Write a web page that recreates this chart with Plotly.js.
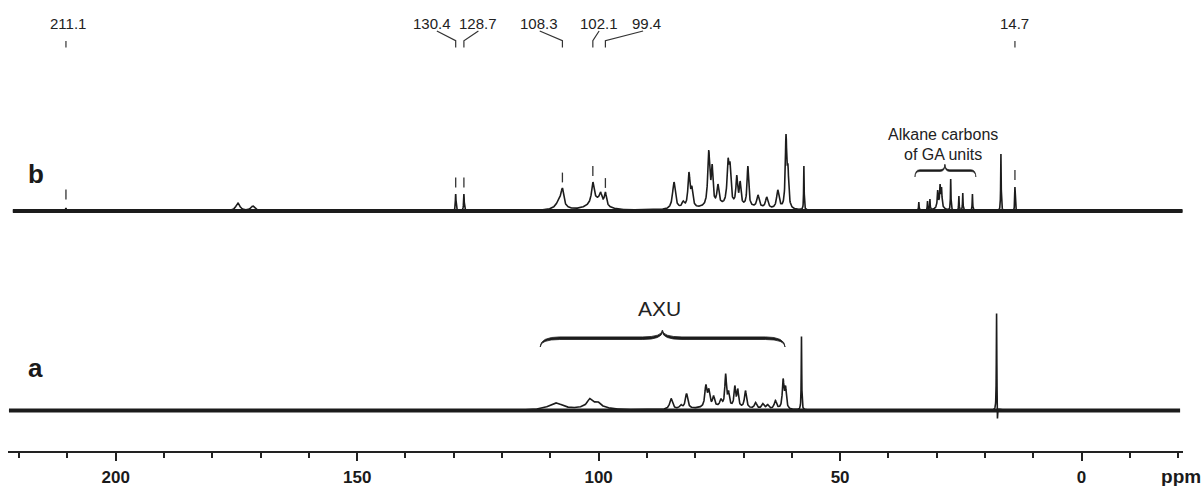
<!DOCTYPE html>
<html><head><meta charset="utf-8">
<script src="https://cdn.plot.ly/plotly-3.0.1.min.js"></script>
<style>html,body{margin:0;padding:0;background:#fff}#chart{width:1204px;height:486px}</style>
</head><body><div id="chart"></div>
<script>
// ===== DATA =====
// Spectrum b (top): sharp/medium peaks: position (ppm), apex height above baseline (a.u.), half-width (ppm)
const peaksB_ppm    = [210.3, 174.7, 171.6, 129.6, 127.9, 107.5, 101.2, 99.6, 98.6, 84.4, 82.5, 81.3, 80.7, 77.2, 76.5, 75.3, 73.2, 72.8, 71.4, 70.7, 69.1, 67.0, 65.2, 62.9, 61.2, 60.8, 57.5, 33.7, 31.9, 31.4, 29.8, 29.3, 29.0, 27.1, 25.4, 24.6, 22.6, 16.7, 13.8];
const peaksB_height = [3, 8, 5, 17, 17, 23, 29, 19, 19, 29, 10, 39, 25, 61, 47, 27, 53, 49, 36, 30, 45, 16, 14, 21, 77, 47, 45, 9, 10, 12, 21, 27, 24, 32, 15, 18, 17, 57, 24];
const peaksB_width  = [0.1, 0.5, 0.5, 0.08, 0.08, 0.3, 0.3, 0.3, 0.25, 0.35, 0.3, 0.25, 0.25, 0.25, 0.2, 0.25, 0.25, 0.2, 0.2, 0.2, 0.2, 0.3, 0.3, 0.3, 0.18, 0.18, 0.06, 0.06, 0.06, 0.06, 0.1, 0.1, 0.1, 0.06, 0.06, 0.06, 0.06, 0.06, 0.06];
// Spectrum b broad humps
const humpsB_ppm    = [108.0, 100.5, 73.0, 29.4];
const humpsB_height = [10, 10, 5, 6];
const humpsB_width  = [0.9, 1.8, 6, 0.7];

// Spectrum a (bottom)
const peaksA_ppm    = [101.9, 100.2, 85.0, 83.0, 81.8, 77.8, 77.2, 76.2, 74.7, 73.7, 73.1, 71.8, 71.2, 69.6, 67.5, 66.0, 65.0, 63.4, 61.8, 61.3, 58.0, 17.6, 17.42];
const peaksA_height = [12, 9, 12, 6, 17, 26, 22, 15, 12, 37, 20, 25, 22, 20, 8, 7, 6, 10, 32, 25, 74, 97, -8];
const peaksA_width  = [0.5, 0.5, 0.35, 0.3, 0.3, 0.25, 0.25, 0.25, 0.25, 0.2, 0.2, 0.2, 0.2, 0.25, 0.3, 0.3, 0.3, 0.3, 0.2, 0.2, 0.06, 0.06, 0.05];
const humpsA_ppm    = [108.9, 101.0, 75.0];
const humpsA_height = [7, 6, 3];
const humpsA_width  = [1.8, 2.2, 6];

// spectrum extents (ppm)
const extentB = [221.3, -20.9];
const extentA = [222.1, -20.4];

// peak labels on top and dash marks above peaks in b
const labelText    = ['211.1', '130.4', '128.7', '108.3', '102.1', '99.4', '14.7'];
const labelPeakPpm = [210.3, 129.6, 127.9, 107.5, 101.2, 98.6, 13.8];
const dashHeightB  = [16.5, 28.5, 28.5, 33.5, 40, 28, 36];

// bottom axis
const axisTickVals = [200, 150, 100, 50, 0];
const axisTickText = ['200', '150', '100', '50', '0'];
const axisUnit = 'ppm';

// ===== LAYOUT CONSTANTS =====
const offsetB = 240, offsetA = 40.5;
const labelAnchorPpm = [209.8, 134.5, 124.9, 112.4, 100.0, 90.0, 13.8];
const leaderStartPpm = [210.3, 133.5, 124.9, 112.2, 99.9, 90.8, 13.8];
const unitPpm = -20.6;
const xRange = [222.3, -21.0];

function lor(x, c, w) { const d = x - c; return w * w / (d * d + w * w); }

// solve amplitudes so that the curve apex at each peak position equals the read height
function solveAmps(ppm, tgt, w, hp, hh, hw) {
  const n = ppm.length;
  const M = [], b = [];
  for (let i = 0; i < n; i++) {
    M.push(ppm.map((c, j) => lor(ppm[i], c, w[j])));
    let bg = 0;
    for (let k = 0; k < hp.length; k++) bg += hh[k] * lor(ppm[i], hp[k], hw[k]);
    b.push(tgt[i] - bg);
  }
  for (let col = 0; col < n; col++) {
    let piv = col;
    for (let r = col + 1; r < n; r++) if (Math.abs(M[r][col]) > Math.abs(M[piv][col])) piv = r;
    [M[col], M[piv]] = [M[piv], M[col]]; [b[col], b[piv]] = [b[piv], b[col]];
    for (let r = col + 1; r < n; r++) {
      const f = M[r][col] / M[col][col];
      for (let k = col; k < n; k++) M[r][k] -= f * M[col][k];
      b[r] -= f * b[col];
    }
  }
  const a = new Array(n).fill(0);
  for (let i = n - 1; i >= 0; i--) {
    let s = b[i];
    for (let k = i + 1; k < n; k++) s -= M[i][k] * a[k];
    a[i] = s / M[i][i];
  }
  return a;
}

function buildSpectrum(ppm, h, w, hp, hh, hw, ext, offset) {
  const amp = solveAmps(ppm, h, w, hp, hh, hw);
  const xs = [];
  for (let x = ext[0]; x >= ext[1]; x -= 0.04) xs.push(x);
  ppm.forEach(c => xs.push(c));
  xs.sort((a, b) => b - a);
  const ys = xs.map(x => {
    let s = 0;
    for (let i = 0; i < ppm.length; i++) s += amp[i] * lor(x, ppm[i], w[i]);
    for (let k = 0; k < hp.length; k++) s += hh[k] * lor(x, hp[k], hw[k]);
    return s + offset;
  });
  return {x: xs, y: ys};
}

const sB = buildSpectrum(peaksB_ppm, peaksB_height, peaksB_width, humpsB_ppm, humpsB_height, humpsB_width, extentB, offsetB);
const sA = buildSpectrum(peaksA_ppm, peaksA_height, peaksA_width, humpsA_ppm, humpsA_height, humpsA_width, extentA, offsetA);

const lineCol = '#1c1c1c';
const traces = [
  {x: extentB, y: [offsetB, offsetB], mode: 'lines', line: {color: lineCol, width: 4}, hoverinfo: 'skip'},
  {x: extentA, y: [offsetA, offsetA], mode: 'lines', line: {color: lineCol, width: 4}, hoverinfo: 'skip'},
  {x: sB.x, y: sB.y, mode: 'lines', line: {color: lineCol, width: 1.6}, hoverinfo: 'skip'},
  {x: sA.x, y: sA.y, mode: 'lines', line: {color: lineCol, width: 1.6}, hoverinfo: 'skip'},
  {x: labelPeakPpm, y: dashHeightB.map(v => v + offsetB), mode: 'markers',
   marker: {symbol: 'line-ns', size: 7, line: {color: '#333', width: 1.3}}, hoverinfo: 'skip'},
  {x: [unitPpm], y: [-100], xaxis: 'x2', mode: 'markers', marker: {opacity: 0}, hoverinfo: 'skip'}
];

const font = 'Liberation Sans, Arial, sans-serif';
const shapes = [];
const annotations = [];
const yLab = 428, yMid = 410.3, yTickTop = 410, yTickBot = 403.5, yLeaderTop = 420;
labelText.forEach((t, i) => {
  annotations.push({x: labelAnchorPpm[i], y: yLab, text: t, showarrow: false,
    font: {family: font, size: 15, color: '#222'}, xanchor: 'center', yanchor: 'middle'});
  if (i === 0 || i === labelText.length - 1) {
    shapes.push({type: 'line', x0: labelPeakPpm[i], x1: labelPeakPpm[i], y0: yTickBot, y1: yTickTop,
      xref: 'x', yref: 'y', line: {color: '#333', width: 1.2}});
  } else {
    shapes.push({type: 'path', xref: 'x', yref: 'y',
      path: `M ${leaderStartPpm[i]},${yLeaderTop} L ${labelPeakPpm[i]},${yMid} L ${labelPeakPpm[i]},${yTickBot}`,
      line: {color: '#333', width: 1.2}});
  }
});

// curly braces (filled, tapered)
function brace(x0, x1, xm, yEnd, yBody, yTip, t) {
  const dx = (x0 - x1) * 0.08;
  const s = x0 > x1 ? -1 : 1;
  const top = `M ${x0},${yEnd} Q ${x0},${yBody + t} ${x0 + s*dx},${yBody + t} L ${xm - s*dx},${yBody + t} Q ${xm},${yBody + t} ${xm},${yTip}` +
              ` Q ${xm},${yBody + t} ${xm + s*dx},${yBody + t} L ${x1 - s*dx},${yBody + t} Q ${x1},${yBody + t} ${x1},${yEnd}`;
  const bot = ` Q ${x1},${yBody} ${x1 - s*dx},${yBody} L ${xm + s*dx},${yBody} Q ${xm},${yBody} ${xm},${yTip - t*0.6}` +
              ` Q ${xm},${yBody} ${xm - s*dx},${yBody} L ${x0 + s*dx},${yBody} Q ${x0},${yBody} ${x0},${yEnd} Z`;
  return top + bot;
}
shapes.push({type: 'path', xref: 'x', yref: 'y', path: brace(112.1, 61.4, 86.8, 104, 111.5, 121, 2.6),
  fillcolor: '#1c1c1c', line: {color: '#1c1c1c', width: 0.8}});
shapes.push({type: 'path', xref: 'x', yref: 'y', path: brace(34.5, 21.9, 28.3, 274, 279.5, 287, 1.8),
  fillcolor: '#1c1c1c', line: {color: '#1c1c1c', width: 0.6}});

annotations.push({x: 87.3, y: 142.2, text: 'AXU', showarrow: false, font: {family: font, size: 21, color: '#222'}});
annotations.push({x: 28.6, y: 317, text: 'Alkane carbons', showarrow: false, font: {family: font, size: 16, color: '#222'}});
annotations.push({x: 28.6, y: 297, text: 'of GA units', showarrow: false, font: {family: font, size: 16, color: '#222'}});
annotations.push({x: 216.6, y: 276.6, text: 'b', showarrow: false, font: {family: font, size: 26, color: '#1a1a1a', weight: 'bold'}});
annotations.push({x: 216.6, y: 83, text: 'a', showarrow: false, font: {family: font, size: 26, color: '#1a1a1a', weight: 'bold'}});

const layout = {
  width: 1204, height: 486,
  margin: {l: 8, r: 21, t: 0, b: 35},
  paper_bgcolor: '#fff', plot_bgcolor: '#fff',
  showlegend: false,
  xaxis: {
    range: xRange, showgrid: false, zeroline: false,
    showline: true, linecolor: '#222', linewidth: 2,
    ticks: 'outside', ticklen: 8, tickwidth: 2, tickcolor: '#222',
    tickmode: 'array', tickvals: axisTickVals, ticktext: axisTickText,
    tickfont: {family: font, size: 17, color: '#1a1a1a', weight: 'bold'},
    ticklabelstandoff: 2,
    minor: {tickmode: 'linear', tick0: 0, dtick: 10, ticks: 'outside', ticklen: 5, tickwidth: 2, tickcolor: '#222', showgrid: false}
  },
  xaxis2: {
    overlaying: 'x', anchor: 'y', side: 'bottom', range: xRange,
    showgrid: false, zeroline: false, showline: false,
    ticks: 'outside', ticklen: 8, tickwidth: 0, tickcolor: 'rgba(0,0,0,0)',
    tickmode: 'array', tickvals: [unitPpm], ticktext: [axisUnit],
    tickfont: {family: font, size: 19, color: '#1a1a1a', weight: 'bold'},
    ticklabelstandoff: 0
  },
  yaxis: {range: [0, 451], visible: false, showgrid: false, zeroline: false},
  shapes: shapes, annotations: annotations
};

Plotly.newPlot('chart', traces, layout, {displayModeBar: false, staticPlot: true});
</script>
</body></html>
